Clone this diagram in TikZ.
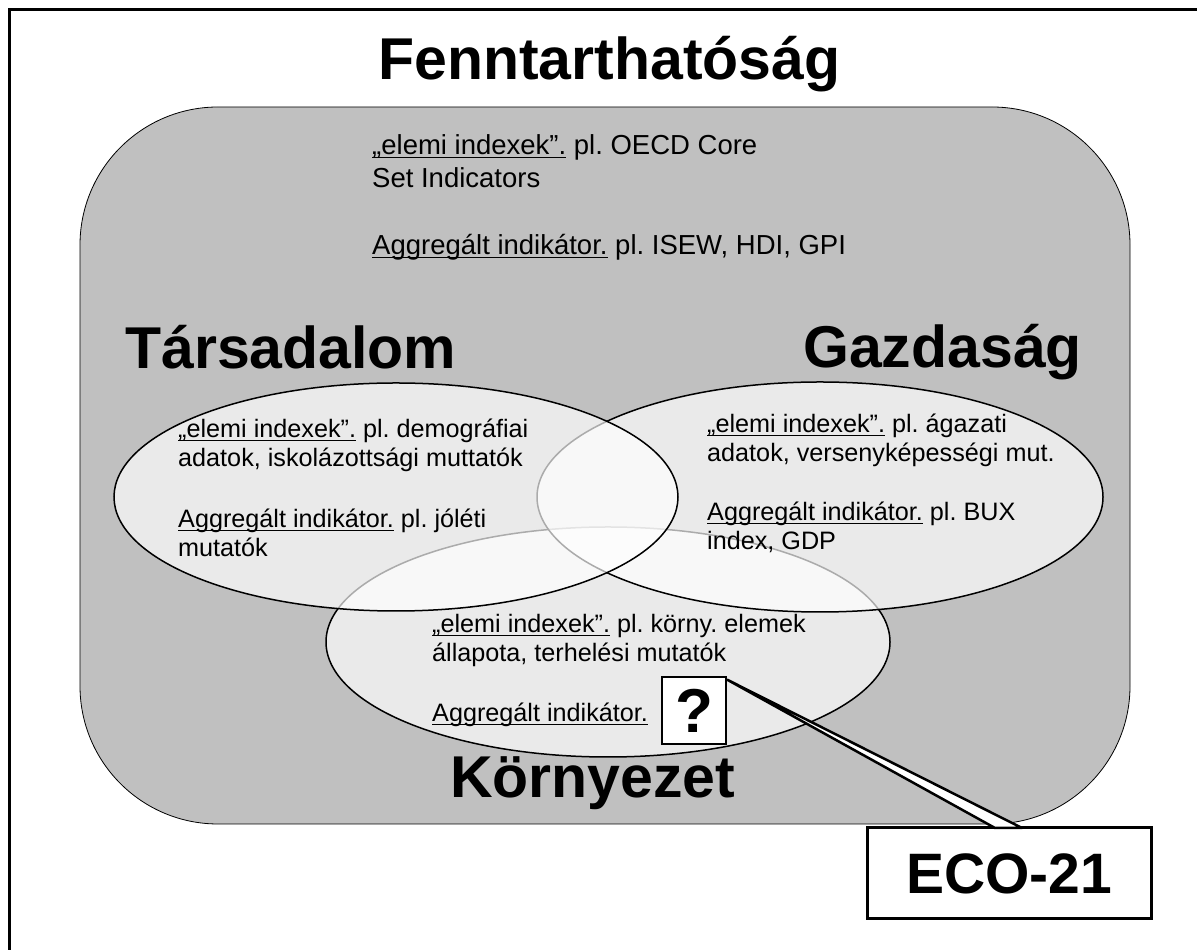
\documentclass[tikz,border=0pt]{standalone}
\usepackage{fontspec}
\setmainfont{Liberation Sans}
\usepackage{xcolor}
\definecolor{panelgray}{RGB}{192,192,192}
\frenchspacing
% underline close to the baseline
\newcommand{\uln}[1]{\leavevmode\setbox0\hbox{#1}\rlap{\rule[-3.5pt]{\wd0}{1.4pt}}\box0\relax}

\begin{document}
\begin{tikzpicture}[
        x=1pt, y=1pt,
        heading/.style={anchor=base west, inner sep=0pt, font=\fontsize{59}{64}\selectfont\bfseries},
        note/.style={anchor=base west, inner sep=0pt, align=left, font=\fontsize{25.2}{29.5}\selectfont},
        bignote/.style={note, font=\fontsize{27.5}{33}\selectfont},
        venn/.style={draw=black, line width=1.5pt, fill=white, fill opacity=0.67},
        labelbox/.style={draw=black, fill=white, inner sep=0pt, font=\bfseries},
        callout/.style={fill=white, draw=black, line width=2.5pt, line join=round}
    ]

    % Frame and panel
    \useasboundingbox (0,0) rectangle (1197,950);
    \draw[line width=3pt] (9,0) -- (9,940) -- (1197,940);
    \draw[fill=panelgray, line width=0.8pt, rounded corners=138pt] (80,126) rectangle (1130,843);

    % Ellipses
    \draw[venn] (608,308) ellipse [x radius=282pt, y radius=115pt];
    \draw[venn] (820,453) ellipse [x radius=283pt, y radius=115pt];
    \draw[venn] (396,453) ellipse [x radius=282pt, y radius=114pt];

    % Headings
    \node[heading] (title) at (378,870) {Fenntarthatóság};
    \node[heading] (soc) at (125,581) {Társadalom};
    \node[heading] (eco) at (803,582) {Gazdaság};
    \node[heading] (env) at (450,152) {Környezet};

    % Notes (base = last line)
    \node[bignote] (topIdx) at (372,762) {\uln{„elemi indexek”.} pl. OECD Core\\Set Indicators};
    \node[bignote] (topAgg) at (372,695) {\uln{Aggregált indikátor.} pl. ISEW, HDI, GPI};
    \node[note] (socIdx) at (178,483) {\uln{„elemi indexek”.} pl. demográfiai\\adatok, iskolázottsági muttatók};
    \node[note] (socAgg) at (178,393) {\uln{Aggregált indikátor.} pl. jóléti\\mutatók};
    \node[note] (ecoIdx) at (707,488) {\uln{„elemi indexek”.} pl. ágazati\\adatok, versenyképességi mut.};
    \node[note] (ecoAgg) at (707,400) {\uln{Aggregált indikátor.} pl. BUX\\index, GDP};
    \node[note] (envIdx) at (432,288) {\uln{„elemi indexek”.} pl. körny. elemek\\állapota, terhelési mutatók};
    \node[note] (envAgg) at (432,228) {\uln{Aggregált indikátor.}};

    % Boxes
    \node[labelbox, line width=2.5pt, minimum width=64pt, minimum height=67pt,
        font=\fontsize{62}{64}\selectfont\bfseries] (qbox) at (694,239.5) {?};
    \node[labelbox, line width=3pt, minimum width=284pt, minimum height=91pt,
        font=\fontsize{57}{60}\selectfont\bfseries] (ecobox) at (1009,76.5) {ECO-21};

    % Callout
    \coordinate (tipL) at (995,122);
    \coordinate (tipR) at (1022,122);
    \filldraw[callout] ([yshift=-4pt]qbox.north east) -- (tipL) -- (tipR) -- cycle;

\end{tikzpicture}
\end{document}
